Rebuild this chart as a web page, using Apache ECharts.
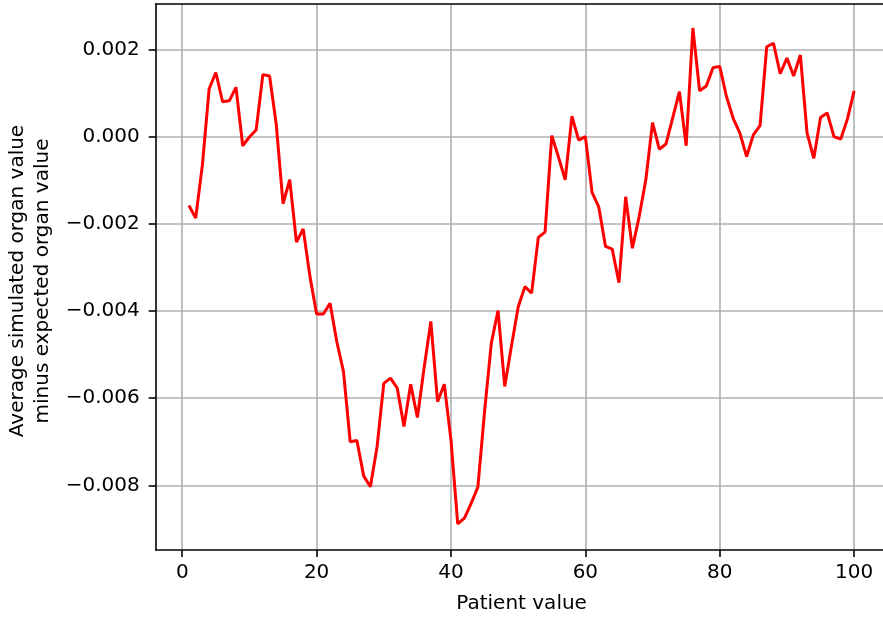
<!DOCTYPE html>
<html>
<head>
<meta charset="utf-8">
<script src="https://cdn.jsdelivr.net/npm/echarts@6/dist/echarts.min.js"></script>
<style>html,body{margin:0;padding:0;background:#fff;}#c{width:883px;height:619px;}</style>
</head>
<body>
<div id="c"></div>
<script>
const patients = [];
for (let i = 1; i <= 100; i++) patients.push(i);
const diffValues = [
  -0.00158, -0.00187, -0.00065, 0.00109, 0.00147, 0.00080, 0.00082, 0.00113, -0.00021, -0.00001,
  0.00015, 0.00142, 0.00139, 0.00027, -0.00154, -0.00099, -0.00242, -0.00212, -0.00320, -0.00407,
  -0.00407, -0.00382, -0.00470, -0.00539, -0.00700, -0.00697, -0.00778, -0.00803, -0.00711, -0.00566,
  -0.00554, -0.00577, -0.00665, -0.00568, -0.00644, -0.00530, -0.00424, -0.00608, -0.00568, -0.00696,
  -0.00888, -0.00875, -0.00841, -0.00804, -0.00630, -0.00474, -0.00399, -0.00573, -0.00480, -0.00391,
  -0.00344, -0.00359, -0.00231, -0.00219, 0.00002, -0.00047, -0.00099, 0.00047, -0.00008, 0.00000,
  -0.00128, -0.00162, -0.00252, -0.00258, -0.00335, -0.00138, -0.00256, -0.00184, -0.00099, 0.00032,
  -0.00029, -0.00017, 0.00043, 0.00103, -0.00021, 0.00249, 0.00105, 0.00116, 0.00158, 0.00161,
  0.00092, 0.00042, 0.00008, -0.00046, 0.00004, 0.00025, 0.00206, 0.00214, 0.00144, 0.00180,
  0.00139, 0.00187, 0.00008, -0.00050, 0.00044, 0.00054, 0.00000, -0.00006, 0.00040, 0.00105
];
const xTicks = [0, 20, 40, 60, 80, 100];
const yTicks = [-0.008, -0.006, -0.004, -0.002, 0.000, 0.002];
const xLabelText = 'Patient value';
const yLabelText = 'Average simulated organ value\nminus expected organ value';

const FONT = 'DejaVu Sans';
const XMIN = -3.95, XMAX = 104.3;
const chart = echarts.init(document.getElementById('c'), null, {renderer: 'canvas'});
chart.setOption({
  animation: false,
  backgroundColor: '#fff',
  grid: {left: 155.7, top: 4, right: 0, bottom: 69, show: false},
  xAxis: [{
    type: 'value', min: XMIN, max: XMAX,
    axisLine: {show: true, onZero: false, lineStyle: {color: '#000', width: 1.6}},
    axisTick: {show: true, length: 7, customValues: xTicks, lineStyle: {color: '#000', width: 1.6}},
    axisLabel: {customValues: xTicks, margin: 13, color: '#000', fontFamily: FONT, fontSize: 20,
      formatter: v => String(v)},
    splitLine: {show: true, lineStyle: {color: '#b0b0b0', width: 1.6}}
  }, {
    type: 'value', position: 'top', min: XMIN, max: XMAX,
    axisLine: {show: true, onZero: false, lineStyle: {color: '#000', width: 1.6}},
    axisTick: {show: false}, axisLabel: {show: false}, splitLine: {show: false}
  }],
  yAxis: {
    type: 'value', min: -0.00948, max: 0.00304,
    axisLine: {show: true, onZero: false, lineStyle: {color: '#000', width: 1.6}},
    axisTick: {show: true, length: 7, customValues: yTicks, lineStyle: {color: '#000', width: 1.6}},
    axisLabel: {customValues: yTicks, margin: 16, color: '#000', fontFamily: FONT, fontSize: 20,
      formatter: v => v.toFixed(3).replace('-', '\u2212').replace('\u22120.000', '0.000')},
    splitLine: {show: true, lineStyle: {color: '#b0b0b0', width: 1.6}}
  },
  graphic: [
    {type: 'text', x: 521.6, y: 604, style: {text: xLabelText, fill: '#000', font: '20px "DejaVu Sans"',
      textAlign: 'center', textVerticalAlign: 'middle'}},
    {type: 'text', x: 30.5, y: 281, rotation: Math.PI / 2,
      style: {text: yLabelText, fill: '#000', font: '20px "DejaVu Sans"', lineHeight: 25,
      textAlign: 'center', textVerticalAlign: 'middle'}}
  ],
  series: [{
    type: 'line', xAxisIndex: 0,
    data: patients.map((p, i) => [p, diffValues[i]]),
    showSymbol: false, symbol: 'none',
    lineStyle: {color: '#ff0000', width: 3},
    clip: true
  }]
});
</script>
</body>
</html>
